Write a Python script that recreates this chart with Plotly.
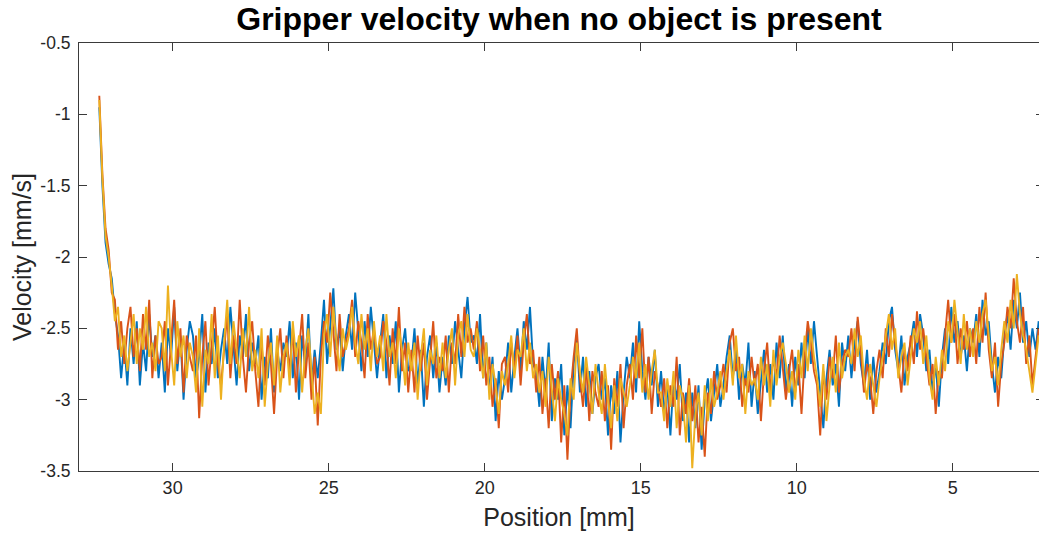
import numpy as np
import plotly.graph_objects as go

# Sample positions (mm), from start of travel down to end
x_start = 32.35
x_step = 0.1

run1 = [
    -0.95, -1.5, -1.9, -2.05, -2.15, -2.4, -2.55, -2.85, -2.6, -2.9,
    -2.5, -2.75, -2.45, -2.9, -2.6, -2.8, -2.4, -2.7, -2.55, -2.85,
    -2.6, -2.95, -2.5, -2.7, -2.35, -2.8, -2.55, -3.0, -2.65, -2.45,
    -2.55, -2.85, -2.7, -2.4, -2.95, -2.6, -2.75, -2.5, -2.85, -2.65,
    -2.5, -2.75, -2.35, -2.65, -2.9, -2.55, -2.7, -2.4, -2.8, -2.6,
    -2.75, -2.55, -3.0, -2.7, -2.85, -2.5, -2.95, -2.65, -2.8, -2.6,
    -2.7, -2.45, -2.85, -2.6, -3.0, -2.55, -2.75, -2.4, -2.9, -2.65,
    -2.85, -2.6, -2.3, -2.75, -2.45, -2.22, -2.65, -2.5, -2.8, -2.55,
    -2.4, -2.65, -2.25, -2.55, -2.8, -2.45, -2.7, -2.35, -2.6, -2.85,
    -2.6, -2.4, -2.85, -2.55, -2.75, -2.45, -2.95, -2.65, -2.5, -2.8,
    -2.75, -2.5, -2.9, -2.65, -3.05, -2.7, -2.55, -2.85, -2.6, -2.95,
    -2.7, -2.9, -2.55, -2.75, -2.45, -2.65, -2.85, -2.5, -2.28, -2.6,
    -2.55, -2.75, -2.4, -2.85, -2.6, -2.95, -2.7, -3.15, -2.8, -3.0,
    -2.85, -2.6, -2.95, -2.7, -2.5, -2.8, -2.45, -2.65, -2.35, -2.75,
    -2.8, -3.05, -2.7, -2.95, -2.6, -3.15, -2.85, -3.0, -2.75, -3.25,
    -2.9, -3.2, -2.75, -2.55, -2.95, -2.7, -3.05, -2.8, -3.1, -2.85,
    -2.75, -3.0, -2.85, -3.25, -2.9, -3.1, -2.8, -3.3, -2.95, -2.7,
    -2.85, -2.6, -2.95, -2.45, -2.8, -3.0, -2.7, -2.9, -2.65, -3.05,
    -2.8, -3.1, -2.9, -3.25, -2.85, -3.0, -2.75, -3.15, -2.95, -3.3,
    -2.95, -3.2, -2.9, -3.35, -3.0, -2.85, -3.15, -2.95, -2.75, -3.05,
    -2.9, -2.7, -2.55, -2.85, -2.65, -3.0, -2.75, -2.9, -2.6, -3.05,
    -2.8, -3.1, -2.85, -2.65, -2.95, -2.75, -3.0, -2.6, -2.85, -2.55,
    -2.95, -2.75, -3.05, -2.7, -2.9, -2.6, -2.85, -2.5, -2.75, -2.45,
    -2.7, -2.95, -3.2, -2.85, -2.65, -2.9, -2.75, -3.05, -2.6, -2.8,
    -2.55, -2.85, -2.6, -2.45, -2.75, -2.9, -2.65, -3.0, -2.7, -2.95,
    -2.8, -2.6, -2.75, -2.45, -2.35, -2.65, -2.8, -2.55, -2.9, -2.7,
    -2.6, -2.45, -2.7, -2.4, -2.55, -2.8, -2.65, -2.95, -2.75, -3.05,
    -2.7, -2.5, -2.75, -2.35, -2.6, -2.45, -2.7, -2.55, -2.8, -2.5,
    -2.6, -2.4, -2.7, -2.3, -2.55, -2.45, -2.75, -2.95, -2.7, -2.85,
    -2.55, -2.4, -2.65, -2.3, -2.5, -2.25, -2.6, -2.45, -2.7, -2.5,
    -2.65, -2.45,
]

run2 = [
    -0.87, -1.42, -1.8, -1.95, -2.25, -2.3, -2.65, -2.45, -2.75, -2.5,
    -2.35, -2.7, -2.5, -2.8, -2.4, -2.65, -2.3, -2.85, -2.55, -2.75,
    -2.7, -2.45, -2.9, -2.6, -2.3, -2.75, -2.5, -2.95, -2.55, -2.7,
    -2.8, -2.55, -3.13, -2.7, -2.45, -2.9, -2.6, -2.35, -2.75, -2.9,
    -2.65, -2.4, -2.85, -2.55, -2.75, -2.3, -2.7, -2.95, -2.6, -2.45,
    -2.8, -3.05, -2.6, -2.9, -2.55, -2.75, -3.1, -2.7, -2.5, -2.85,
    -2.55, -2.8, -2.5, -2.95, -2.65, -2.4, -2.85, -2.6, -3.0, -2.7,
    -3.18, -2.7, -2.45, -2.6, -2.25, -2.55, -2.8, -2.4, -2.7, -2.6,
    -2.5, -2.3, -2.7, -2.45, -2.6, -2.85, -2.4, -2.65, -2.5, -2.75,
    -2.7, -2.45, -2.6, -2.9, -2.5, -2.75, -2.35, -2.8, -2.6, -2.95,
    -2.65, -2.95, -2.55, -2.8, -2.6, -3.0, -2.7, -2.45, -2.85, -2.7,
    -2.8, -2.55, -2.95, -2.6, -2.75, -2.4, -2.7, -2.35, -2.6, -2.5,
    -2.65, -2.45, -2.8, -2.55, -2.9, -2.7, -3.05, -2.85, -3.2, -2.75,
    -2.7, -2.95, -2.6, -2.8, -2.55, -2.9, -2.6, -2.4, -2.75, -2.65,
    -2.95, -2.7, -3.1, -2.85, -3.2, -2.75, -3.0, -2.8, -3.3, -2.9,
    -3.42, -2.95, -2.7, -2.5, -2.85, -3.05, -2.75, -3.15, -2.8, -2.95,
    -3.05, -2.8, -3.15, -2.9, -3.35, -2.85, -3.05, -2.75, -3.2, -2.9,
    -2.75, -3.0, -2.55, -2.85, -2.5, -2.95, -2.7, -3.1, -2.8, -2.9,
    -3.05, -2.85, -3.2, -2.9, -3.05, -2.7, -3.25, -2.95, -3.1, -2.85,
    -3.15, -2.9, -3.3, -3.05, -3.4, -2.95, -3.1, -2.8, -3.0, -2.9,
    -2.75, -2.95, -2.6, -2.5, -2.8, -2.7, -3.05, -2.85, -2.95, -2.7,
    -2.9, -2.75, -3.15, -2.8, -2.6, -2.95, -2.7, -2.85, -2.55, -2.8,
    -3.0, -2.8, -2.65, -2.95, -2.75, -3.1, -2.7, -2.45, -2.6, -2.8,
    -2.9, -3.25, -2.8, -3.0, -2.7, -2.85, -2.55, -2.95, -2.75, -2.65,
    -2.7, -2.5, -2.8, -2.42, -2.65, -2.95, -2.75, -2.85, -3.1, -2.8,
    -2.65, -2.85, -2.5, -2.7, -2.4, -2.6, -2.75, -2.95, -2.65, -2.8,
    -2.55, -2.75, -2.38, -2.65, -2.5, -2.7, -2.9, -2.75, -3.1, -2.8,
    -2.85, -2.55, -2.3, -2.6, -2.4, -2.75, -2.5, -2.65, -2.45, -2.7,
    -2.5, -2.75, -2.35, -2.6, -2.25, -2.65, -2.85, -2.6, -3.05, -2.75,
    -2.6, -2.35, -2.5, -2.15, -2.45, -2.6, -2.35, -2.75, -2.55, -2.9,
    -2.7, -2.5,
]

run3 = [
    -0.9, -1.45, -1.85, -2.0, -2.2, -2.45, -2.35, -2.7, -2.55, -2.8,
    -2.6, -2.4, -2.75, -2.5, -2.65, -2.35, -2.7, -2.6, -2.8, -2.45,
    -2.5, -2.8, -2.2, -2.65, -2.9, -2.45, -2.7, -2.55, -2.85, -2.6,
    -2.7, -2.95, -2.5, -3.05, -2.65, -2.75, -2.4, -2.85, -2.55, -3.0,
    -2.6, -2.3, -2.75, -2.45, -2.65, -2.85, -2.5, -2.7, -2.35, -2.8,
    -2.65, -2.85, -2.5, -3.05, -2.75, -2.6, -2.9, -2.55, -2.95, -2.7,
    -2.6, -2.9, -2.45, -2.7, -2.55, -2.95, -2.65, -2.5, -2.8, -3.1,
    -2.95, -3.1, -2.55, -2.4, -2.7, -2.35, -2.6, -2.8, -2.5, -2.65,
    -2.55, -2.35, -2.6, -2.75, -2.4, -2.65, -2.5, -2.8, -2.45, -2.7,
    -2.55, -2.8, -2.4, -2.7, -2.6, -2.85, -2.5, -2.65, -2.9, -2.6,
    -2.8, -2.6, -3.0, -2.7, -2.5, -2.9, -2.65, -2.75, -2.55, -2.85,
    -2.6, -2.85, -2.65, -2.5, -2.9, -2.55, -2.45, -2.7, -2.4, -2.65,
    -2.7, -2.5, -2.65, -2.85, -2.6, -3.0, -2.75, -2.9, -3.1, -2.8,
    -2.9, -2.75, -2.55, -2.85, -2.65, -2.7, -2.5, -2.8, -2.6, -2.85,
    -2.75, -2.95, -2.8, -3.05, -2.7, -2.95, -3.15, -2.85, -3.0, -3.1,
    -3.25, -2.85, -3.0, -2.6, -2.8, -2.95, -2.7, -2.9, -3.1, -2.75,
    -2.95, -3.1, -2.75, -3.0, -3.2, -2.9, -3.15, -2.85, -2.95, -3.05,
    -2.9, -2.7, -2.85, -2.6, -2.95, -2.75, -3.0, -2.8, -2.65, -2.95,
    -2.95, -3.15, -2.85, -3.05, -2.8, -3.2, -2.9, -3.0, -3.3, -2.9,
    -3.48, -3.1, -2.95, -3.25, -2.9, -3.15, -2.85, -3.05, -2.95, -2.8,
    -3.0, -2.8, -2.65, -2.9, -2.55, -2.85, -2.75, -3.1, -2.8, -2.9,
    -2.85, -3.0, -2.7, -2.9, -2.75, -3.05, -2.65, -2.9, -2.7, -2.6,
    -2.75, -2.95, -2.8, -3.0, -2.65, -2.85, -2.55, -2.8, -2.5, -2.7,
    -2.85, -3.05, -2.75, -3.15, -2.9, -2.7, -2.95, -2.6, -2.85, -2.7,
    -2.65, -2.75, -2.5, -2.7, -2.55, -2.85, -3.0, -2.75, -2.9, -3.05,
    -2.85, -2.7, -2.55, -2.4, -2.65, -2.5, -2.85, -2.7, -2.6, -2.9,
    -2.7, -2.5, -2.6, -2.45, -2.75, -2.55, -2.85, -3.0, -2.7, -2.9,
    -2.65, -2.8, -2.45, -2.6, -2.3, -2.55, -2.75, -2.4, -2.65, -2.5,
    -2.7, -2.45, -2.6, -2.4, -2.3, -2.55, -2.8, -2.7, -2.9, -2.65,
    -2.45, -2.6, -2.3, -2.5, -2.12, -2.4, -2.55, -2.65, -2.8, -2.95,
    -2.75, -2.55,
]

x_ticks = [5, 10, 15, 20, 25, 30]
y_ticks = [-3.5, -3.0, -2.5, -2.0, -1.5, -1.0, -0.5]
y_tick_text = ["-3.5", "-3", "-2.5", "-2", "-1.5", "-1", "-0.5"]

colors = ["#0072BD", "#D95319", "#EDB120"]
series = [run1, run2, run3]

fig = go.Figure()
for vals, col in zip(series, colors):
    pos = np.round(x_start - x_step * np.arange(len(vals)), 3)
    fig.add_trace(go.Scatter(x=pos, y=vals, mode="lines",
                             line=dict(color=col, width=1.9),
                             showlegend=False, hoverinfo="skip"))

# invisible helper trace so that the right-hand tick axis is drawn
fig.add_trace(go.Scatter(x=[None], y=[None], yaxis="y2", showlegend=False,
                         hoverinfo="skip"))

axis_color = "#3a3a3a"
label_color = "#262626"
fig.update_layout(
    width=1039, height=533,
    margin=dict(l=79, r=0, t=43, b=62, autoexpand=False),
    paper_bgcolor="white", plot_bgcolor="white",
    font=dict(family="Liberation Sans, Arial, sans-serif", color=label_color),
    title=dict(text="<b>Gripper velocity when no object is present</b>",
               x=559 / 1039, xanchor="center", y=1 - 8 / 533, yanchor="top",
               font=dict(size=32, color="black")),
    xaxis=dict(
        range=[33.0, 2.24], tickvals=x_ticks,
        ticktext=[str(t) for t in x_ticks],
        ticks="inside", ticklen=8, tickcolor=axis_color, tickwidth=1,
        showline=True, linecolor=axis_color, linewidth=1, mirror="ticks",
        showgrid=False, zeroline=False, tickfont=dict(size=18),
        automargin=False,
        title=dict(text="Position [mm]", font=dict(size=25), standoff=11),
    ),
    yaxis=dict(
        range=[-3.5, -0.5], tickvals=y_ticks, ticktext=y_tick_text,
        ticks="inside", ticklen=8, tickcolor=axis_color, tickwidth=1,
        showline=True, linecolor=axis_color, linewidth=1, mirror=False,
        showgrid=False, zeroline=False, tickfont=dict(size=17.5),
        ticklabelstandoff=4, automargin=False,
        title=dict(text="Velocity [mm/s]", font=dict(size=25), standoff=1),
    ),
    yaxis2=dict(overlaying="y", side="right", range=[-3.5, -0.5],
                tickvals=y_ticks, showticklabels=False, ticks="inside",
                ticklen=3, tickcolor=axis_color, showline=False,
                showgrid=False, zeroline=False, automargin=False),
)

fig.write_html("out.html")
